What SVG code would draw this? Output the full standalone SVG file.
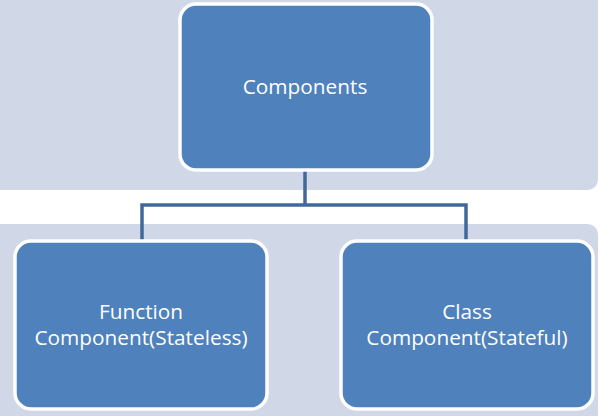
<svg xmlns="http://www.w3.org/2000/svg" width="600" height="416" viewBox="0 0 600 416">
<style>
.band{fill:#D0D8E7}
.node{fill:#4F81BD;stroke:#FFFFFF;stroke-width:3.5}
.lbl{font-family:"Open Sans","Liberation Sans",sans-serif;font-size:20.8px;fill:#FFFFFF;text-anchor:middle}
.conn{fill:none;stroke:#41689A;stroke-width:3.5}
</style>
<rect width="600" height="416" fill="#FFFFFF"/>
<path class="band" d="M0,0 H598 V178 Q598,190 586,190 H0 Z"/>
<path class="band" d="M0,224 H586 Q598,224 598,236 V416 H0 Z"/>
<g id="connectors">
<path class="conn" d="M305,170 V205"/>
<path class="conn" d="M142,240 V205 H466 V240"/>
</g>
<g id="components">
<rect class="node" x="180" y="4" width="252" height="166" rx="16"/>
<text class="lbl" x="305" y="94">Components</text>
</g>
<g id="function-component">
<rect class="node" x="15" y="241" width="252" height="168" rx="16"/>
<text class="lbl" x="141" y="319">Function</text>
<text class="lbl" x="141" y="345">Component(Stateless)</text>
</g>
<g id="class-component">
<rect class="node" x="341" y="241" width="252" height="168" rx="16"/>
<text class="lbl" x="467" y="319">Class</text>
<text class="lbl" x="467" y="345">Component(Stateful)</text>
</g>
</svg>
